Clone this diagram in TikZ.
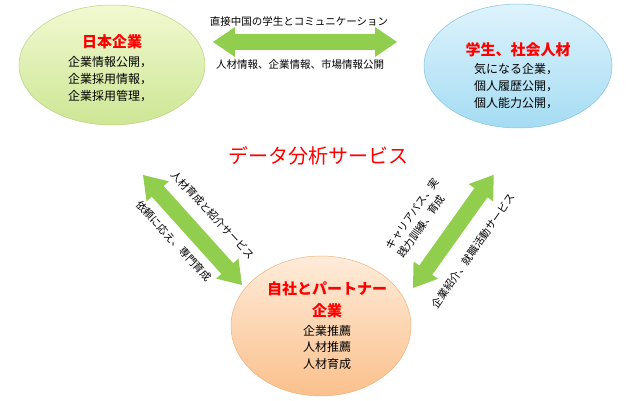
\documentclass[tikz,border=0pt]{standalone}
\usepackage{fontspec}
\usetikzlibrary{shapes.geometric}
\setmainfont{Noto Sans CJK JP}
\begin{document}
\begin{tikzpicture}[x=1pt,y=-1pt,
  arrowfill/.style={top color=agreenl, bottom color=agreen, middle color=agreen},
  ttl/.style={text=red, font=\bfseries\fontsize{15}{17}\selectfont},
  body/.style={font=\fontsize{12}{17}\selectfont, align=center},
  lab/.style={font=\fontsize{10.5}{13}\selectfont, inner sep=0pt}]
\definecolor{agreen}{RGB}{146,206,78}
\definecolor{agreenl}{RGB}{165,215,110}
\useasboundingbox (0,0) rectangle (630,401);
\newcommand{\dblarrow}[5]{%
  \begin{scope}[shift={(#1,#2)},rotate=#3]
    \coordinate (#5a) at (0,0);
    \coordinate (#5b) at (#4,0);
    \fill[fill=agreen] (#5a) -- (22,15) -- (22,8) -- (#4-22,8) -- (#4-22,15) -- (#5b)
      -- (#4-22,-15) -- (#4-22,-8) -- (22,-8) -- (22,-15) -- cycle;
  \end{scope}}
% ellipses
\node[shape=ellipse, draw={rgb,255:red,185;green,212;blue,130}, line width=0.5pt,
  top color={rgb,255:red,242;green,249;blue,210}, bottom color={rgb,255:red,205;green,230;blue,148},
  minimum width=186, minimum height=120] (jp) at (112,65) {};
\node[shape=ellipse, draw={rgb,255:red,130;green,195;blue,222}, line width=0.5pt,
  top color={rgb,255:red,222;green,243;blue,252}, bottom color={rgb,255:red,165;green,220;blue,243},
  minimum width=188, minimum height=124] (st) at (518,66) {};
\node[shape=ellipse, draw={rgb,255:red,240;green,178;blue,125}, line width=0.5pt,
  top color={rgb,255:red,255;green,236;blue,218}, bottom color={rgb,255:red,250;green,192;blue,140},
  minimum width=180, minimum height=140] (pt) at (321,326) {};
% texts in ellipses
\node[ttl] (jpt) at (112,42) {日本企業};
\node[body] (jpb) at (110,79) {企業情報公開，\\企業採用情報，\\企業採用管理，};
\node[ttl] (stt) at (518,50) {学生、社会人材};
\node[body] (stb) at (516,86) {気になる企業，\\個人履歴公開，\\個人能力公開，};
\node[ttl, align=center, font=\bfseries\fontsize{15}{22}\selectfont] (ptt) at (327,300) {自社とパートナー\\企業};
\node[body, font=\fontsize{12}{16.5}\selectfont] (ptb) at (327,347) {企業推薦\\人材推薦\\人材育成};
% center
\node[text=red, font=\fontsize{20}{22}\selectfont] (ds) at (318,156) {データ分析サービス};
% arrows
\dblarrow{213}{42}{0}{184}{t}
\dblarrow{143}{175}{-48}{148}{l}
\dblarrow{413}{288}{54.5}{139}{r}
% arrow labels
\node[lab] (t1) at (299,21) {直接中国の学生とコミュニケーション};
\node[lab] (t2) at (300,65) {人材情報、企業情報、市場情報公開};
\node[lab, rotate=-47] (l1) at (213,215) {人材育成と紹介サービス};
\node[lab, rotate=-47] (l2) at (174,241) {依頼に応え、専門育成};
\node[lab, rotate=55, align=left, font=\fontsize{10.5}{15}\selectfont] (r1) at (418,218) {キャリアパス、実\\践力訓練、育成};
\node[lab, rotate=55] (r2) at (473,251) {企業紹介、就職活動サービス};
\end{tikzpicture}
\end{document}
